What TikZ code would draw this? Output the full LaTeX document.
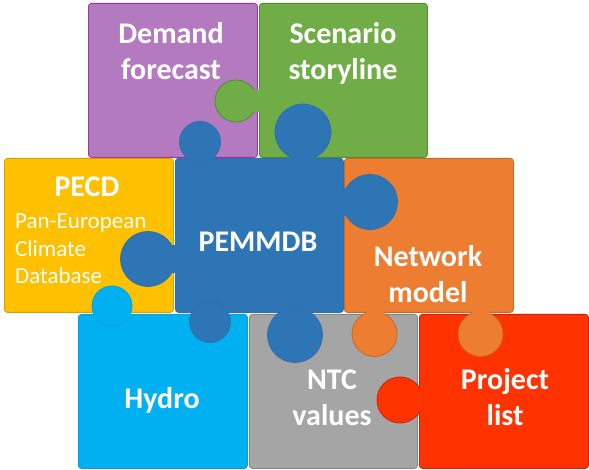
\documentclass[tikz,border=0pt]{standalone}
\usepackage{fontspec}
\setmainfont{Carlito}
\usetikzlibrary{positioning}
\definecolor{pzpurple}{RGB}{179,122,192}
\definecolor{pzpurpleline}{RGB}{160,48,160}
\definecolor{pzgreen}{RGB}{112,173,71}
\definecolor{pzgreenline}{RGB}{82,140,52}
\definecolor{pzblue}{RGB}{46,117,182}
\definecolor{pzblueline}{RGB}{44,112,176}
\definecolor{pzyellow}{RGB}{255,192,0}
\definecolor{pzyellowline}{RGB}{214,162,0}
\definecolor{pzorange}{RGB}{237,125,49}
\definecolor{pzorangeline}{RGB}{204,102,36}
\definecolor{pzcyan}{RGB}{0,176,240}
\definecolor{pzcyanline}{RGB}{0,160,222}
\definecolor{pzgrey}{RGB}{165,165,165}
\definecolor{pzgreyline}{RGB}{132,132,132}
\definecolor{pzred}{RGB}{255,51,0}
\definecolor{pzredline}{RGB}{204,34,0}
\tikzset{
  piece/.style={rounded corners=3pt, line width=0.8pt, inner sep=0pt, anchor=north west,
                minimum height=154pt},
  knob/.style={circle, line width=0.8pt, inner sep=0pt},
  ptitle/.style={text=white, font=\fontsize{30}{36}\selectfont\bfseries, align=center,
                 anchor=base, inner sep=0pt},
  psub/.style={text=white, font=\fontsize{23}{27.5}\selectfont, align=left,
               anchor=base west, inner sep=0pt},
}

\begin{document}
\begin{tikzpicture}[x=1pt, y=-1pt]
    \useasboundingbox (0,0) rectangle (589,470);
    % the eight pieces
    \node[piece, fill=pzpurple, draw=pzpurpleline, minimum width=169pt] (demand) at (88,3) {};
    \node[piece, fill=pzgreen, draw=pzgreenline, minimum width=168pt] (scenario) at (259,3) {};
    \node[piece, fill=pzyellow, draw=pzyellowline, minimum width=169pt] (pecd) at (4,158) {};
    \node[piece, fill=pzblue, draw=pzblueline, minimum width=168pt] (pemmdb) at (175,158) {};
    \node[piece, fill=pzorange, draw=pzorangeline, minimum width=169pt] (network) at (344,158) {};
    \node[piece, fill=pzcyan, draw=pzcyanline, minimum width=169pt] (hydro) at (78,314) {};
    \node[piece, fill=pzgrey, draw=pzgreyline, minimum width=168pt] (ntc) at (249,314) {};
    \node[piece, fill=pzred, draw=pzredline, minimum width=169pt] (project) at (419,314) {};

    % knobs: circle first, then the neck hides the seam
    \node[knob, fill=pzgreen, draw=pzgreenline, minimum size=42pt] (knobsd) at (236,101) {};
    \fill[pzgreen] (250,90) rectangle (262,112);
    \node[knob, fill=pzblue, draw=pzblueline, minimum size=41pt] (knobpd) at (200,142) {};
    \fill[pzblue] (188,154) rectangle (212,162);
    \node[knob, fill=pzblue, draw=pzblueline, minimum size=56pt] (knobps) at (303,132) {};
    \fill[pzblue] (292,154) rectangle (314,162);
    \node[knob, fill=pzblue, draw=pzblueline, minimum size=55pt] (knobpn) at (370,202) {};
    \fill[pzblue] (339,188) rectangle (350,216);
    \node[knob, fill=pzblue, draw=pzblueline, minimum size=55pt] (knobpe) at (148,259) {};
    \fill[pzblue] (168,245) rectangle (179,273);
    \node[knob, fill=pzblue, draw=pzblueline, minimum size=41pt] (knobph) at (210,322) {};
    \fill[pzblue] (193,308) rectangle (227,316);
    \node[knob, fill=pzblue, draw=pzblueline, minimum size=55pt] (knobpt) at (295,335) {};
    \fill[pzblue] (281,308) rectangle (309,316);
    \node[knob, fill=pzcyan, draw=pzcyanline, minimum size=40pt] (knobhe) at (112,306) {};
    \fill[pzcyan] (94,311) rectangle (130,317);
    \node[knob, fill=pzorange, draw=pzorangeline, minimum size=45pt] (knobnt) at (374.5,334) {};
    \fill[pzorange] (365.5,308) rectangle (383.5,318);
    \node[knob, fill=pzorange, draw=pzorangeline, minimum size=45pt] (knobnp) at (480.5,334) {};
    \fill[pzorange] (471.5,308) rectangle (489.5,318);
    \node[knob, fill=pzred, draw=pzredline, minimum size=46pt] (knobpr) at (400,400) {};
    \fill[pzred] (412,388) rectangle (423,412);

    % labels (base = last line)
    \node[ptitle] (demandtxt) at (171,80) {Demand\\forecast};
    \node[ptitle] (scenariotxt) at (343,80) {Scenario\\storyline};
    \node[ptitle] (pecdtxt) at (87,197) {PECD};
    \node[psub] (pecdsub) at (15,284) {Pan-European\\Climate\\Database};
    \node[ptitle] (pemmdbtxt) at (258,252) {PEMMDB};
    \node[ptitle] (networktxt) at (428,303) {Network\\model};
    \node[ptitle] (hydrotxt) at (162,408) {Hydro};
    \node[ptitle] (ntctxt) at (332,425) {NTC\\values};
    \node[ptitle] (projecttxt) at (505,425) {Project\\list};
  \end{tikzpicture}
\end{document}
